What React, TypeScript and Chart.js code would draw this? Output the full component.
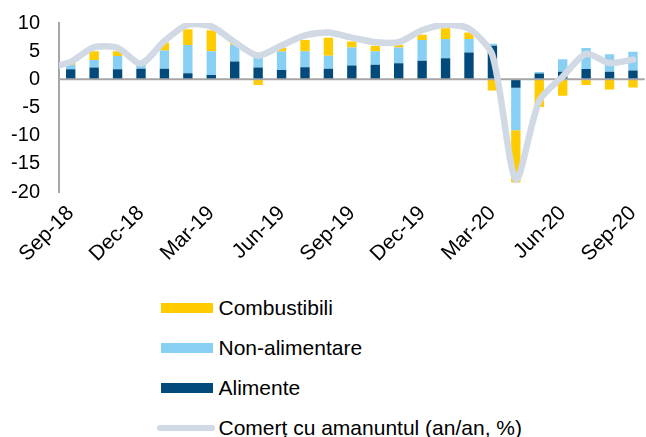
import React, { useEffect, useRef } from 'react';
import { Chart, registerables } from 'chart.js';

Chart.register(...registerables);

const months: string[] = [
  'Aug-18', 'Sep-18', 'Oct-18', 'Nov-18', 'Dec-18', 'Jan-19', 'Feb-19', 'Mar-19', 'Apr-19',
  'May-19', 'Jun-19', 'Jul-19', 'Aug-19', 'Sep-19', 'Oct-19', 'Nov-19', 'Dec-19',
  'Jan-20', 'Feb-20', 'Mar-20', 'Apr-20', 'May-20', 'Jun-20', 'Jul-20', 'Aug-20', 'Sep-20',
];

const alimente: (number | null)[] = [
  null, 1.8, 2.1, 1.8, 1.9, 1.9, 1.1, 0.75, 3.15, 2.1, 1.65, 2.15, 1.9,
  2.45, 2.6, 2.85, 3.3, 3.75, 4.75, 5.95, -1.5, 1.05, 1.35, 1.85, 1.35, 1.55,
];

const nonAlimentare: (number | null)[] = [
  null, 0.8, 1.35, 2.35, 0.65, 3.2, 5.0, 4.25, 2.95, 2.6, 3.3, 2.85, 2.3,
  3.2, 2.4, 2.8, 3.7, 3.4, 2.4, 0.35, -7.55, 0.25, 2.2, 3.7, 3.1, 3.35,
];

const combustibili: (number | null)[] = [
  null, 0.35, 1.55, 0.85, 0.25, 1.4, 2.8, 3.7, 0.3, -1.0, 0.65, 2.0, 3.2,
  1.05, 0.95, 0.45, 0.9, 1.9, 1.15, -2.0, -9.25, -4.9, -2.9, -1.0, -1.8, -1.45,
];

const comert: number[] = [
  2.0, 3.1, 5.7, 5.6, 2.8, 6.8, 9.7, 9.4, 6.6, 4.2, 6.0, 7.8, 8.3,
  7.4, 6.6, 6.6, 8.7, 9.7, 9.0, 4.3, -17.8, -3.8, 0.5, 4.5, 2.9, 3.5,
];

const firstMonth = 'Sep-18';
const shownMonths = ['Sep', 'Dec', 'Mar', 'Jun'];
const yMin = -20;
const yMax = 10;
const yStep = 5;

const seriesNames = {
  comb: 'Combustibili',
  non: 'Non-alimentare',
  alim: 'Alimente',
  line: 'Comerț cu amanuntul (an/an, %)',
};

const COLORS = {
  comb: '#FFCC00',
  non: '#88D0F3',
  alim: '#024A7C',
  line: '#D0D9E4',
  axis: '#A6A6A6',
};

const FONT = '"Liberation Sans", Arial, sans-serif';

const zeroLinePlugin = {
  id: 'zeroLine',
  beforeDatasetDraw(chart: any, args: any) {
    if (args.meta.type !== 'line') return;
    const y = chart.scales.y.getPixelForValue(0);
    const { left, right } = chart.chartArea;
    const ctx = chart.ctx;
    ctx.save();
    ctx.strokeStyle = COLORS.axis;
    ctx.lineWidth = 2;
    ctx.beginPath();
    ctx.moveTo(left, y);
    ctx.lineTo(right, y);
    ctx.stroke();
    ctx.restore();
  },
};

export default function App() {
  const canvasRef = useRef<HTMLCanvasElement | null>(null);

  useEffect(() => {
    if (!canvasRef.current) return;
    const chart = new Chart(canvasRef.current, {
      type: 'bar',
      data: {
        labels: months,
        datasets: [
          {
            type: 'bar',
            label: seriesNames.alim,
            data: alimente,
            backgroundColor: COLORS.alim,
            stack: 'bars',
            order: 1,
            barPercentage: 0.4,
            categoryPercentage: 1,
          },
          {
            type: 'bar',
            label: seriesNames.non,
            data: nonAlimentare,
            backgroundColor: COLORS.non,
            stack: 'bars',
            order: 1,
            barPercentage: 0.4,
            categoryPercentage: 1,
          },
          {
            type: 'bar',
            label: seriesNames.comb,
            data: combustibili,
            backgroundColor: COLORS.comb,
            stack: 'bars',
            order: 1,
            barPercentage: 0.4,
            categoryPercentage: 1,
          },
          {
            type: 'line',
            label: seriesNames.line,
            data: comert,
            borderColor: COLORS.line,
            backgroundColor: COLORS.line,
            borderWidth: 6.5,
            pointRadius: 0,
            tension: 0.25,
            borderCapStyle: 'round',
            borderJoinStyle: 'round',
            stack: 'line',
            order: 0,
          } as any,
        ],
      },
      options: {
        responsive: false,
        animation: false,
        devicePixelRatio: 1,
        layout: { padding: { top: 23, left: 0, right: 10, bottom: 0 } },
        plugins: {
          legend: { display: false },
          tooltip: { enabled: false },
        },
        scales: {
          x: {
            type: 'category',
            min: firstMonth,
            stacked: true,
            offset: true,
            grid: { display: false, drawTicks: false },
            border: { display: false },
            afterFit: (scale: any) => {
              scale.height = 80;
            },
            ticks: {
              autoSkip: false,
              maxRotation: 45,
              minRotation: 45,
              padding: 9,
              labelOffset: 0,
              color: '#000',
              font: { family: FONT, size: 21 },
              callback: function (this: any, value: any) {
                const lab = String(this.getLabelForValue(value));
                return shownMonths.includes(lab.slice(0, 3)) ? lab : '';
              },
            },
          },
          y: {
            stacked: true,
            min: yMin,
            max: yMax,
            grid: { display: false, drawTicks: false },
            border: { display: true, color: COLORS.axis, width: 2 },
            afterFit: (scale: any) => {
              scale.width = 59;
              scale.paddingTop = 10;
              scale.paddingBottom = 10;
            },
            ticks: {
              stepSize: yStep,
              autoSkip: false,
              padding: 19,
              color: '#000',
              font: { family: FONT, size: 20 },
            },
          },
        },
      } as any,
      plugins: [zeroLinePlugin],
    });
    return () => chart.destroy();
  }, []);

  const legendRows = [
    { name: seriesNames.comb, color: COLORS.comb, kind: 'box', cy: 308 },
    { name: seriesNames.non, color: COLORS.non, kind: 'box', cy: 348 },
    { name: seriesNames.alim, color: COLORS.alim, kind: 'box', cy: 388 },
    { name: seriesNames.line, color: COLORS.line, kind: 'line', cy: 428 },
  ];

  return (
    <div
      style={{
        position: 'fixed',
        left: 0,
        top: 0,
        width: 646,
        height: 437,
        overflow: 'hidden',
        background: '#fff',
      }}
    >
      <div style={{ position: 'absolute', left: 0, top: 0, width: 660, height: 272 }}>
        <canvas ref={canvasRef} width={660} height={272} style={{ display: 'block' }} />
      </div>
      {legendRows.map((r) => (
        <div
          key={r.name}
          style={{
            position: 'absolute',
            left: 157,
            top: r.cy - 12,
            height: 24,
            display: 'flex',
            alignItems: 'center',
            whiteSpace: 'nowrap',
            fontFamily: FONT,
            fontSize: 21,
            color: '#000',
          }}
        >
          {r.kind === 'box' ? (
            <div style={{ width: 52, height: 10, marginLeft: 3.5, background: r.color }} />
          ) : (
            <div style={{ width: 58, height: 6, borderRadius: 3, background: r.color }} />
          )}
          <span style={{ marginLeft: r.kind === 'box' ? 6 : 3.5 }}>{r.name}</span>
        </div>
      ))}
    </div>
  );
}
